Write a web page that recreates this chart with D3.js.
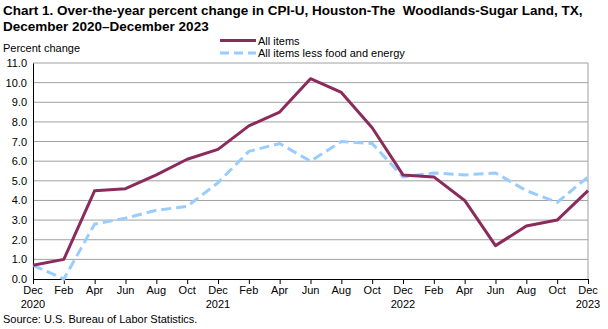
<!DOCTYPE html>
<html>
<head>
<meta charset="utf-8">
<script src="https://cdn.jsdelivr.net/npm/d3@7"></script>
<style>
  body { margin: 0; background: #fff; }
  text { font-family: "Liberation Sans", Arial, sans-serif; fill: #000; }
</style>
</head>
<body>
<script>
// Data: Dec 2020 - Dec 2023, every two months
const months = ["Dec", "Feb", "Apr", "Jun", "Aug", "Oct", "Dec", "Feb", "Apr", "Jun",
                "Aug", "Oct", "Dec", "Feb", "Apr", "Jun", "Aug", "Oct", "Dec"];
const years = ["2020", "", "", "", "", "", "2021", "", "", "", "", "", "2022", "", "", "", "", "", "2023"];
const allItems = [0.7, 1.0, 4.5, 4.6, 5.3, 6.1, 6.6, 7.8, 8.5, 10.2, 9.5, 7.7, 5.3, 5.2, 4.0, 1.7, 2.7, 3.0, 4.5];
const coreItems = [0.7, 0.0, 2.8, 3.1, 3.5, 3.7, 4.9, 6.5, 6.9, 6.0, 7.0, 6.9, 5.2, 5.4, 5.3, 5.4, 4.5, 3.9, 5.2];
const yTicks = d3.range(0, 11.5, 1);

const width = 608, height = 329;
const margin = { left: 33, right: 20, top: 63, bottom: 50 };

const svg = d3.select("body").append("svg")
  .attr("width", width)
  .attr("height", height);

const x = d3.scaleLinear()
  .domain([0, months.length - 1])
  .range([margin.left, width - margin.right]);

const y = d3.scaleLinear()
  .domain([0, 11])
  .range([height - margin.bottom, margin.top]);

// Title
svg.append("text").attr("x", 3).attr("y", 15)
  .attr("font-size", 13.5).attr("font-weight", "bold")
  .style("white-space", "pre")
  .text("Chart 1. Over-the-year percent change in CPI-U, Houston-The  Woodlands-Sugar Land, TX,");
svg.append("text").attr("x", 3).attr("y", 31)
  .attr("font-size", 13.5).attr("font-weight", "bold")
  .text("December 2020\u2013December 2023");

svg.append("text").attr("x", 3).attr("y", 52)
  .attr("font-size", 11).text("Percent change");

// Gridlines
svg.append("g")
  .selectAll("line")
  .data(yTicks.filter(d => d > 0))
  .join("line")
  .attr("x1", margin.left).attr("x2", width - margin.right)
  .attr("y1", d => y(d)).attr("y2", d => y(d))
  .attr("stroke", "#a0a0a0").attr("stroke-width", 1);

// Right border
svg.append("line")
  .attr("x1", width - margin.right).attr("x2", width - margin.right)
  .attr("y1", y(11)).attr("y2", y(0))
  .attr("stroke", "#a0a0a0");

// Y axis
const yAxis = svg.append("g")
  .attr("transform", `translate(${margin.left},0)`)
  .call(d3.axisLeft(y).tickValues(yTicks).tickFormat(d3.format(".1f")).tickSize(0).tickPadding(6));
yAxis.select(".domain").attr("stroke", "#000");
yAxis.selectAll("text").attr("font-size", 11).attr("font-family", "Liberation Sans, Arial, sans-serif");

// X axis
const xAxis = svg.append("g")
  .attr("transform", `translate(0,${y(0)})`)
  .call(d3.axisBottom(x).tickValues(d3.range(months.length)).tickFormat("").tickSize(5).tickSizeOuter(0));
xAxis.select(".domain").attr("stroke", "#000");
xAxis.selectAll("line").attr("stroke", "#000");

const xl = svg.append("g");
xl.selectAll("text.m")
  .data(months)
  .join("text")
  .attr("class", "m")
  .attr("x", (d, i) => x(i)).attr("y", y(0) + 15)
  .attr("text-anchor", "middle").attr("font-size", 11)
  .text(d => d);
xl.selectAll("text.yr")
  .data(years)
  .join("text")
  .attr("class", "yr")
  .attr("x", (d, i) => x(i)).attr("y", y(0) + 28.5)
  .attr("text-anchor", "middle").attr("font-size", 11)
  .text(d => d);

// Lines
const line = d3.line().x((d, i) => x(i)).y(d => y(d));

svg.append("path")
  .datum(coreItems)
  .attr("d", line)
  .attr("fill", "none")
  .attr("stroke", "#99ccff")
  .attr("stroke-width", 3)
  .attr("stroke-dasharray", "10,5");

svg.append("path")
  .datum(allItems)
  .attr("d", line)
  .attr("fill", "none")
  .attr("stroke", "#8b2b5c")
  .attr("stroke-width", 3)
  .attr("stroke-linejoin", "round");

// Legend
const legend = [
  { label: "All items", color: "#8b2b5c", dash: null },
  { label: "All items less food and energy", color: "#99ccff", dash: "9,5" }
];
const lg = svg.append("g");
legend.forEach((d, i) => {
  const ly = 40.5 + i * 12.5;
  lg.append("line")
    .attr("x1", 220).attr("x2", 256).attr("y1", ly).attr("y2", ly)
    .attr("stroke", d.color).attr("stroke-width", 3)
    .attr("stroke-dasharray", d.dash);
  lg.append("text").attr("x", 258).attr("y", ly + 4)
    .attr("font-size", 11).text(d.label);
});

// Source
svg.append("text").attr("x", 3).attr("y", 323)
  .attr("font-size", 11).text("Source: U.S. Bureau of Labor Statistics.");
</script>
</body>
</html>
